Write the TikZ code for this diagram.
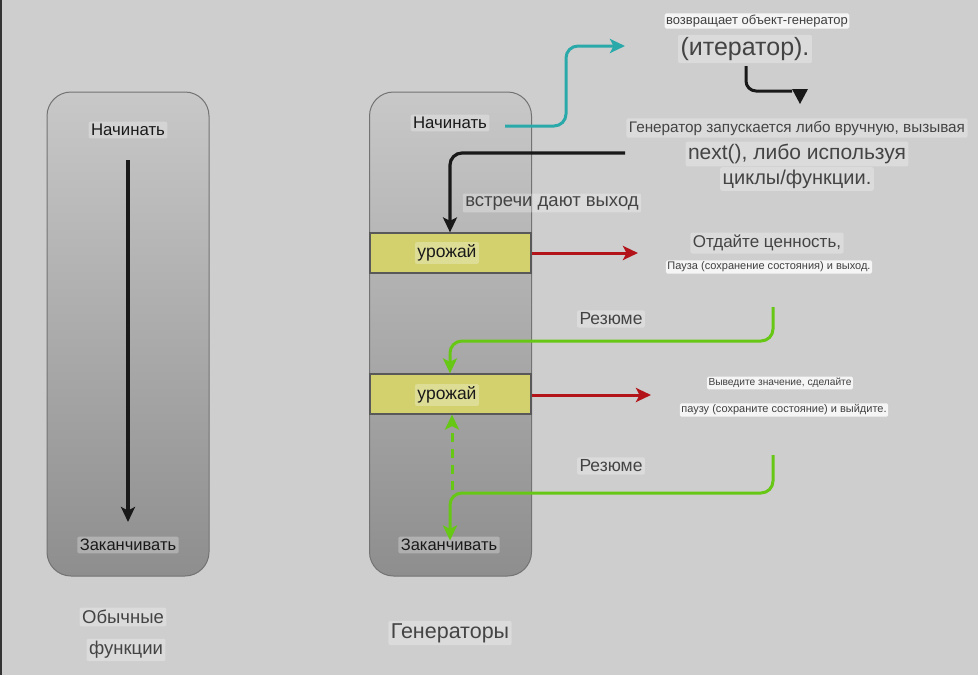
\documentclass[tikz,border=0pt]{standalone}
\usepackage{fontspec}
\setmainfont{Liberation Sans}
\usetikzlibrary{arrows.meta}
\definecolor{bg}{HTML}{CECECE}
\definecolor{boxtop}{HTML}{C8C8C8}
\definecolor{boxbot}{HTML}{8E8E8E}
\definecolor{yel}{HTML}{D2D16E}
\definecolor{redc}{HTML}{B3141A}
\definecolor{greenc}{HTML}{66C814}
\definecolor{cyanc}{HTML}{2AA9AA}
\definecolor{txt}{HTML}{1A1A1A}
\definecolor{gtxt}{HTML}{444444}
\newcommand{\fs}[1]{\fontsize{#1}{#1}\selectfont}
\tikzset{
  lbl/.style={fill=white, fill opacity=0.28, text opacity=1, rounded corners=2pt, inner sep=2.5pt, text=txt},
  glbl/.style={lbl, text=gtxt},
  wlbl/.style={fill=white, fill opacity=0.8, text opacity=1, rounded corners=1.5pt, inner sep=1.5pt, text=black!75},
  gbox/.style={draw=black!55, line width=1pt, rounded corners=24pt, top color=boxtop, bottom color=boxbot, minimum width=162pt, minimum height=484pt},
  ybox/.style={draw=black!65, line width=1.2pt, fill=yel, minimum width=161pt, minimum height=40pt},
  stl/.style={-{Stealth[length=15pt,width=14pt,inset=3.5pt]}},
  blackarr/.style={stl, draw=black!90, line width=3.2pt, rounded corners=12pt},
  redarr/.style={stl, draw=redc, line width=3pt},
  greenarr/.style={stl, draw=greenc, line width=3pt, rounded corners=12pt},
  cyanarr/.style={stl, draw=cyanc, line width=3pt, rounded corners=12pt},
}
\begin{document}
\begin{tikzpicture}[x=1pt,y=-1pt]
\useasboundingbox (0,0) rectangle (978,675);
\fill[bg] (0,0) rectangle (978,675);
\fill[black!80] (0,0) rectangle (2,675);

% ---- left: ordinary functions
\node[gbox] (L) at (128,334) {};
\node[lbl,font=\fs{16.8}] (ls) at (128,130) {Начинать};
\node[lbl,font=\fs{16.5}] (le) at (128,545) {Заканчивать};
\coordinate (la) at (128,160);
\coordinate (lb) at (128,522);
\draw[blackarr] (la) -- (lb);
\node[glbl,font=\fs{18.5}] (o1) at (123,617) {Обычные};
\node[glbl,font=\fs{18.5}] (o2) at (126,650) {функции};

% ---- right: generators
\node[gbox] (R) at (450.5,334) {};
\node[lbl,font=\fs{16.8}] (gs) at (450,123) {Начинать};
\node[ybox] (y1) at (450.5,253) {};
\node[lbl,font=\fs{17.5}] (y1t) at (447,253) {урожай};
\node[ybox] (y2) at (450.5,394) {};
\node[lbl,font=\fs{17.5}] (y2t) at (447,395) {урожай};
\node[lbl,font=\fs{16.5}] (ge) at (449,545) {Заканчивать};
\node[glbl,font=\fs{21.5}] (gen) at (450,633) {Генераторы};

% top texts
\node[wlbl,font=\fs{13}] (t1) at (757,21) {возвращает объект-генератор};
\node[glbl,font=\fs{25}] (t2) at (745,49) {(итератор).};
\node[glbl,font=\fs{15.3}] (t3) at (797,128) {Генератор запускается либо вручную, вызывая};
\node[glbl,font=\fs{21}] (t4) at (797,154) {next(), либо используя};
\node[glbl,font=\fs{20}] (t5) at (797,179) {циклы/функции.};
\node[glbl,font=\fs{18.5}] (t6) at (552,203) {встречи дают выход};

% cyan arrow
\coordinate (c0) at (505,126);
\coordinate (c1) at (625,46);
\draw[cyanarr] (c0) -| (566,46) -- (c1);

% black small arrow under (итератор)
\coordinate (b0) at (746,66);
\draw[draw=black!90, line width=3pt, rounded corners=10pt] (b0) |- (792,91);
\fill[black!90] (792,89) -- (808,89) -- (800,104) -- cycle;

% black arrow to first yield
\coordinate (k0) at (625,153);
\draw[blackarr] (k0) -| (y1.north -| 450,0);

% yield 1 -> text
\draw[redarr] (y1.east |- 0,253) -- (638,253);
\node[glbl,font=\fs{17}] (t7) at (767,243) {Отдайте ценность,};
\node[wlbl,font=\fs{11}] (t8) at (769,267) {Пауза (сохранение состояния) и выход.};

% resume 1
\coordinate (r0) at (773,307);
\draw[greenarr] (r0) |- (450,341) -- (y2.north -| 450,0);
\node[glbl,font=\fs{17.5}] (res1) at (611,319) {Резюме};

% yield 2 -> text
\draw[redarr] (y2.east |- 0,395) -- (651,395);
\node[wlbl,font=\fs{10.2}] (t9) at (780,383) {Выведите значение, сделайте};
\node[wlbl,font=\fs{11}] (t10) at (784,410) {паузу (сохраните состояние) и выйдите.};

% resume 2
\coordinate (r1) at (773,455);
\draw[greenarr] (r1) |- (450,493) -- ([yshift=-4pt]ge.north -| 450,0);
\node[glbl,font=\fs{17.5}] (res2) at (611,466) {Резюме};

% dashed green up
\coordinate (d0) at (452,490);
\draw[stl, draw=greenc, line width=3pt, dash pattern=on 9pt off 7pt] (d0) -- (y2.south -| 452,0);
\end{tikzpicture}
\end{document}
